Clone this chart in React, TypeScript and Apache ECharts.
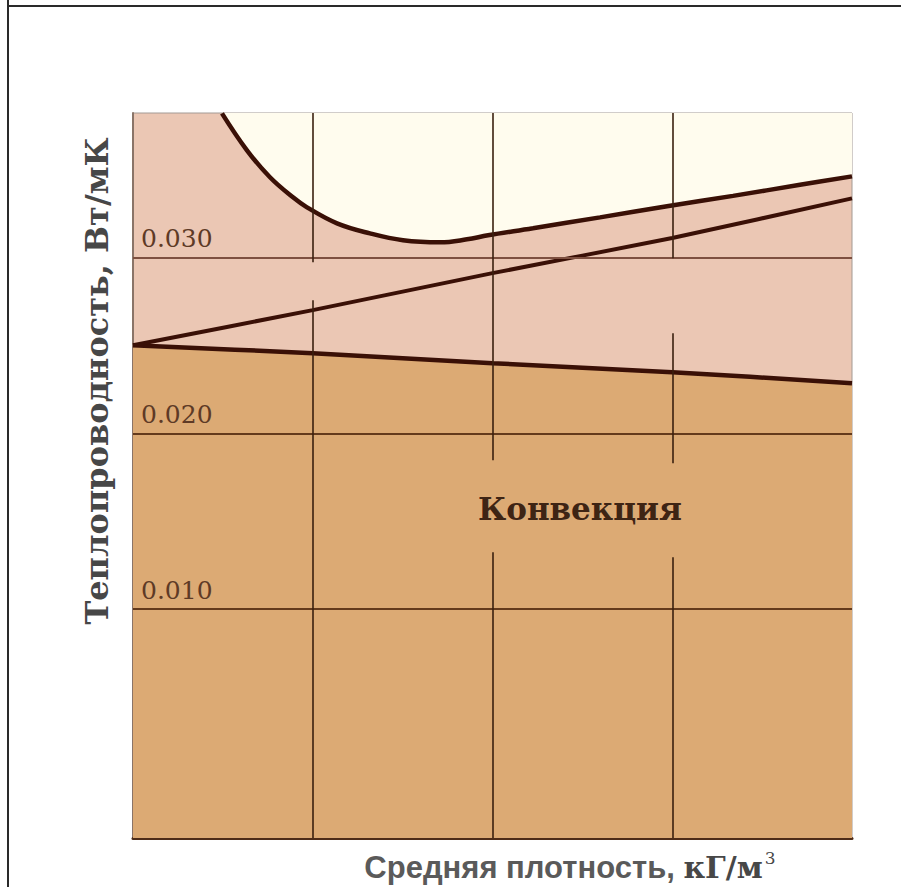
import React, { useEffect, useRef } from "react";
import * as echarts from "echarts";

// Axis ranges (x: column index of the grid, y: thermal conductivity, W/mK)
const X_MIN = 0;
const X_MAX = 4;
const Y_MIN = -0.003;
const Y_MAX = 0.0382;

// Horizontal reference lines / tick labels
const yTicks = [0.01, 0.02, 0.03];
const yTickLabels = ["0.010", "0.020", "0.030"];

// Curve A – lower boundary (convection region below it)
const curveAx = [0, 1, 2, 3, 4];
const curveAy = [0.025, 0.02455, 0.02398, 0.02347, 0.02284];

// Curve B – rising straight line
const curveBx = [0, 1, 2, 3, 4];
const curveBy = [0.025, 0.027, 0.0291, 0.0311, 0.03335];

// Curve C – upper U-shaped curve
const curveCx = [0.495, 0.634, 0.762, 0.89, 0.968, 1.135, 1.318, 1.502, 1.708, 1.858, 1.975, 2.225, 2.598, 2.971, 3.338, 3.711, 4.0];
const curveCy = [0.03818, 0.03608, 0.03455, 0.03341, 0.03284, 0.03193, 0.03136, 0.03097, 0.03085, 0.03102, 0.03125, 0.03165, 0.03227, 0.0329, 0.03349, 0.03412, 0.0346];

// Vertical grid line segments [x, yFrom, yTo]
const vSegments: [number, number, number][] = [
  [1, Y_MIN, 0.02756],
  [1, 0.02972, Y_MAX],
  [2, Y_MIN, 0.01324],
  [2, 0.01847, Y_MAX],
  [3, Y_MIN, 0.01295],
  [3, 0.0183, 0.02568],
  [3, 0.02994, Y_MAX],
];

const regionLabel = "Конвекция";
const yTitle = "Теплопроводность, Вт/мК";
const xTitleA = "Средняя плотность, ";
const xTitleB = "кГ/м";
const xTitleSup = "3";

const zip = (xs: number[], ys: number[]) => xs.map((x, i) => [x, ys[i]]);

export default function App() {
  const ref = useRef<HTMLDivElement>(null);
  useEffect(() => {
    if (!ref.current) return;
    const chart = echarts.init(ref.current, undefined, { renderer: "svg" });
    const lineColor = "#3a1006";
    const dataA = zip(curveAx, curveAy);
    const dataB = zip(curveBx, curveBy);
    const dataC = zip(curveCx, curveCy);

    const markData: any[] = [];
    yTicks.forEach((v, i) => {
      markData.push({
        yAxis: v,
        lineStyle: { color: i === 2 ? "#7e5040" : "#643a1c", width: 2, type: "solid" },
        label: {
          show: true,
          position: "insideStartTop",
          formatter: () => yTickLabels[i],
          fontFamily: "DejaVu Serif",
          fontSize: 25,
          color: "#5e3a26",
          distance: [8, 6],
        },
      });
    });
    vSegments.forEach(([x, y1, y2]) => {
      markData.push([
        { coord: [x, y1], lineStyle: { color: "#3a200f", width: 1.6, type: "solid" }, label: { show: false } },
        { coord: [x, y2] },
      ]);
    });

    chart.setOption({
      animation: false,
      backgroundColor: "#ffffff",
      grid: {
        left: 133,
        top: 113,
        width: 719,
        height: 725,
        show: true,
        backgroundColor: "#ebc7b4",
        borderColor: "#a39a94",
        borderWidth: 1,
        containLabel: false,
        outerBoundsMode: "none",
      },
      xAxis: {
        type: "value",
        min: X_MIN,
        max: X_MAX,
        axisLine: { show: true, onZero: false, lineStyle: { color: "#4e2c18", width: 3 } },
        axisTick: { show: false },
        axisLabel: { show: false },
        splitLine: { show: false },
      },
      yAxis: {
        type: "value",
        min: Y_MIN,
        max: Y_MAX,
        axisLine: { show: true, onZero: false, lineStyle: { color: "#8a7468", width: 2 } },
        axisTick: { show: false },
        axisLabel: { show: false },
        splitLine: { show: false },
      },
      series: [
        {
          type: "line",
          data: dataC,
          smooth: 0.4,
          showSymbol: false,
          z: 1,
          lineStyle: { width: 0 },
          areaStyle: { origin: "end", color: "#fffcee", opacity: 1 },
          silent: true,
        },
        {
          type: "line",
          data: dataA,
          smooth: 0.3,
          showSymbol: false,
          z: 1,
          lineStyle: { width: 0 },
          areaStyle: { origin: "start", color: "#dcaa74", opacity: 1 },
          silent: true,
        },
        {
          type: "line",
          data: dataA,
          showSymbol: false,
          z: 2,
          lineStyle: { width: 0, opacity: 0 },
          silent: true,
          markLine: {
            silent: true,
            symbol: ["none", "none"],
            data: markData,
          },
        },
        {
          type: "line",
          data: dataC,
          smooth: 0.4,
          showSymbol: false,
          z: 3,
          lineStyle: { color: lineColor, width: 4.5 },
          silent: true,
        },
        {
          type: "line",
          data: dataA,
          smooth: 0.3,
          showSymbol: false,
          z: 3,
          lineStyle: { color: lineColor, width: 4.5 },
          silent: true,
        },
        {
          type: "line",
          data: dataB,
          smooth: 0.2,
          showSymbol: false,
          z: 3,
          lineStyle: { color: lineColor, width: 4 },
          silent: true,
        },
      ],
      graphic: [
        { type: "line", shape: { x1: 8, y1: 0, x2: 8, y2: 887 }, style: { stroke: "#2a2a2a", lineWidth: 2 } },
        { type: "line", shape: { x1: 8, y1: 6, x2: 901, y2: 6 }, style: { stroke: "#2a2a2a", lineWidth: 2 } },
        {
          type: "text",
          x: 580,
          y: 509,
          z: 10,
          style: {
            text: regionLabel,
            fontFamily: "DejaVu Serif",
            fontWeight: "bold",
            fontSize: 31,
            fill: "#3e2414",
            align: "center",
            verticalAlign: "middle",
          },
        },
        {
          type: "text",
          x: 97,
          y: 381,
          rotation: Math.PI / 2,
          style: {
            text: yTitle,
            fontFamily: "DejaVu Serif",
            fontWeight: "bold",
            fontSize: 32,
            fill: "#474747",
            align: "center",
            verticalAlign: "middle",
          },
        },
        {
          type: "text",
          x: 570,
          y: 867,
          style: {
            text: `{a|${xTitleA}}{b|${xTitleB}}{c|${xTitleSup}}`,
            align: "center",
            verticalAlign: "middle",
            rich: {
              a: { fontFamily: "Liberation Sans", fontWeight: "bold", fontSize: 31, fill: "#5a5a5a", color: "#5a5a5a" },
              b: { fontFamily: "DejaVu Serif", fontWeight: "bold", fontSize: 30, fill: "#474747", color: "#474747" },
              c: { fontFamily: "DejaVu Serif", fontSize: 17, fill: "#474747", color: "#474747", verticalAlign: "top", padding: [0, 0, 18, 2] },
            },
          },
        },
      ],
    });
    return () => chart.dispose();
  }, []);
  return (
    <div
      ref={ref}
      style={{ position: "absolute", left: 0, top: 0, width: 901, height: 887 }}
    />
  );
}
